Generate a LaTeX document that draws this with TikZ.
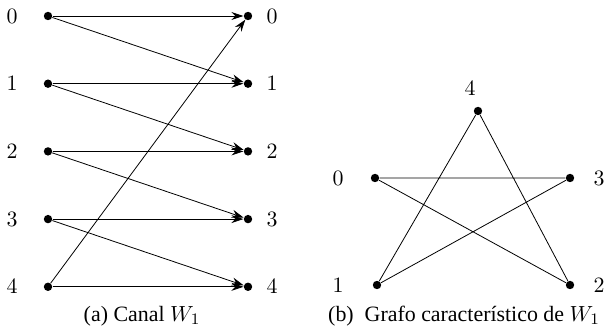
\documentclass[tikz,border=0pt,11pt]{standalone}
\usepackage[no-math]{fontspec}
\setmainfont{Liberation Serif}
\usetikzlibrary{arrows.meta}

\begin{document}
\begin{tikzpicture}[
  x=0.5pt,y=-0.5pt,
  dot/.style={circle,fill,inner sep=0pt,minimum size=4.2pt},
  lbl/.style={inner sep=0pt},
  arr/.style={-{Stealth[length=6pt,width=4pt,inset=2pt]}}
]
  \useasboundingbox (0,0) rectangle (605,330);
  % (a) canal
  \foreach \i in {0,...,4}{
    \node[dot] (in\i) at (48,{16+67.7*\i}) {};
    \node[dot] (out\i) at (248,{16+67.7*\i}) {};
    \node[lbl] (lin\i) at (12,{16+67.7*\i}) {$\i$};
    \node[lbl] (lout\i) at (272,{16+67.7*\i}) {$\i$};
  }
  \foreach \i/\j in {0/0,0/1,1/1,1/2,2/2,2/3,3/3,3/4,4/4,4/0}
    \draw[arr] (in\i) -- (out\j);
  \node (capa) at (142,316) {(a) Canal $W_1$};
  % (b) grafo
  \node[dot] (v4) at (478,111) {};
  \node[dot] (v0) at (375,178) {};
  \node[dot] (v3) at (570,178) {};
  \node[dot] (v1) at (377,285) {};
  \node[dot] (v2) at (570,285) {};
  \node[lbl] (l4) at (470,88) {$4$};
  \node[lbl] (l0) at (338,178) {$0$};
  \node[lbl] (l3) at (599,178) {$3$};
  \node[lbl] (l1) at (338,285) {$1$};
  \node[lbl] (l2) at (599,285) {$2$};
  \draw (v0) -- (v3) (v0) -- (v2) (v4) -- (v1) (v4) -- (v2) (v1) -- (v3);
  \node (capb) at (464,316) {(b)\enspace Grafo característico de $W_1$};
\end{tikzpicture}
\end{document}
